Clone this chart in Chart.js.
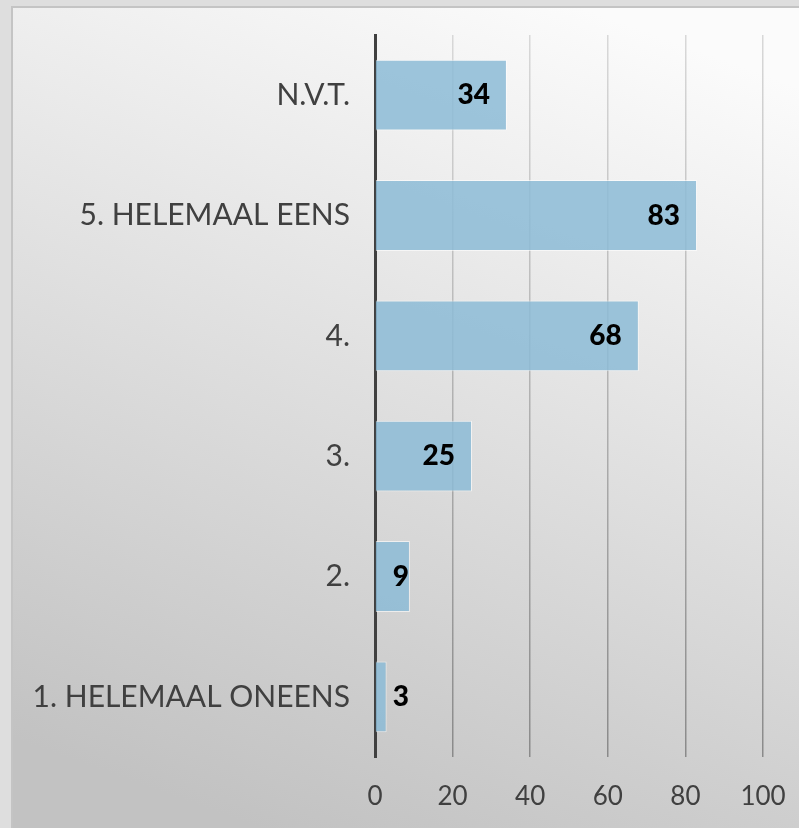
<!DOCTYPE html>
<html>
<head>
<meta charset="utf-8">
<script src="https://cdn.jsdelivr.net/npm/chart.js@4.4.1/dist/chart.umd.min.js"></script>
<style>
html,body{margin:0;padding:0;background:#dedede;}
canvas{display:block;}
</style>
</head>
<body>
<canvas id="c" width="799" height="828"></canvas>
<script>
const categories = ['1. HELEMAAL ONEENS', '2.', '3.', '4.', '5. HELEMAAL EENS', 'N.V.T.'];
const counts = [3, 9, 25, 68, 83, 34];
const xTickMin = 0;
const xTickMax = 100;
const xTickStep = 20;

const FONT = 'Lato, "Open Sans", sans-serif';

const panelPlugin = {
  id: 'panel',
  beforeDraw(chart) {
    const ctx = chart.ctx;
    ctx.save();
    ctx.fillStyle = '#dedede';
    ctx.fillRect(0, 0, chart.width, chart.height);
    const g = ctx.createLinearGradient(560, 0, 260, 828);
    g.addColorStop(0, '#fbfbfb');
    g.addColorStop(1, '#c2c2c2');
    ctx.fillStyle = g;
    ctx.fillRect(11, 6, chart.width - 11, chart.height - 6);
    ctx.strokeStyle = '#c4c4c4';
    ctx.lineWidth = 2;
    ctx.beginPath();
    ctx.moveTo(12, chart.height);
    ctx.lineTo(12, 7);
    ctx.lineTo(chart.width, 7);
    ctx.stroke();
    ctx.restore();
  }
};

const valueLabels = {
  id: 'valueLabels',
  afterDatasetsDraw(chart) {
    const ctx = chart.ctx;
    const meta = chart.getDatasetMeta(0);
    ctx.save();
    ctx.font = '900 28px ' + FONT;
    ctx.fillStyle = '#000';
    ctx.textBaseline = 'middle';
    ctx.textAlign = 'left';
    meta.data.forEach((bar, i) => {
      const txt = String(chart.data.datasets[0].data[i]);
      const w = ctx.measureText(txt).width;
      const x0 = bar.base;
      const x = Math.max(bar.x - 17 - w, x0 + 17);
      ctx.fillText(txt, x, bar.y);
    });
    ctx.restore();
  }
};

new Chart(document.getElementById('c'), {
  type: 'bar',
  data: {
    labels: categories,
    datasets: [{
      data: counts,
      backgroundColor: 'rgba(140,187,214,0.85)',
      borderColor: 'rgba(255,255,255,0.6)',
      borderWidth: 1,
      barPercentage: 1 / 1.7,
      categoryPercentage: 1
    }]
  },
  options: {
    indexAxis: 'y',
    responsive: false,
    animation: false,
    layout: { padding: { top: 35, right: 36, left: 0, bottom: 0 } },
    plugins: { legend: { display: false }, tooltip: { enabled: false } },
    scales: {
      x: {
        min: xTickMin,
        max: xTickMax,
        ticks: { stepSize: xTickStep, color: '#404040', font: { family: FONT, size: 26 }, padding: 24 },
        grid: {
          drawTicks: false,
          tickLength: 0,
          lineWidth: 1.5,
          color: (c) => {
            const ch = c.chart;
            const a = ch.chartArea;
            if (!a) return '#bbb';
            const g = ch.ctx.createLinearGradient(0, a.top, 0, a.bottom);
            g.addColorStop(0, '#d8d8d8');
            g.addColorStop(1, '#8a8a8a');
            return g;
          }
        },
        border: { display: false },
        afterFit(s) { s.height = 71; s.paddingLeft = 0; s.paddingRight = 0; }
      },
      y: {
        reverse: true,
        ticks: { color: '#404040', font: { family: FONT, size: 30 }, padding: 25 },
        grid: { display: false, drawTicks: false, tickLength: 0 },
        border: { display: true, color: '#404040', width: 3 },
        afterFit(s) { s.width = 375; s.paddingTop = 0; s.paddingBottom = 0; }
      }
    }
  },
  plugins: [panelPlugin, valueLabels]
});
</script>
</body>
</html>
